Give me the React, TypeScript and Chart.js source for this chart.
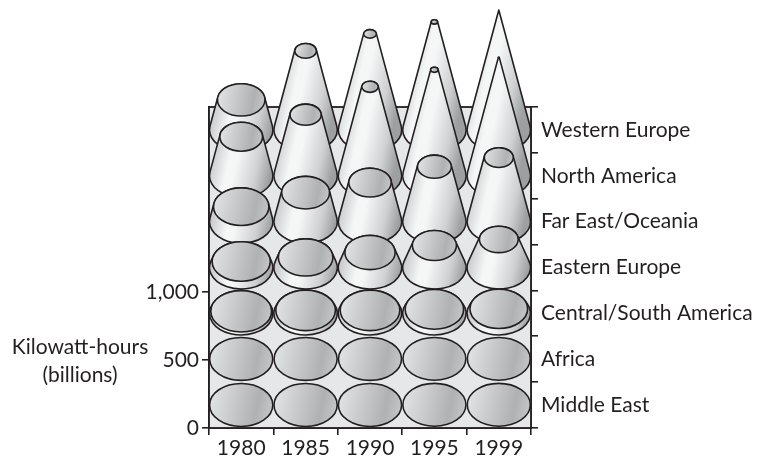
import React, { useEffect, useRef } from "react";
import { Chart, registerables } from "chart.js";

Chart.register(...registerables);

const years = ["1980", "1985", "1990", "1995", "1999"];
// Back row first: this is also the drawing order.
const regions = [
  "Western Europe",
  "North America",
  "Far East/Oceania",
  "Eastern Europe",
  "Central/South America",
  "Africa",
  "Middle East",
];
const westernEurope = [221, 581, 706, 794, 882];
const northAmerica = [287, 449, 654, 779, 868];
const farEast = [110, 213, 287, 404, 471];
const easternEurope = [44, 74, 110, 162, 206];
const centralSouthAmerica = [15, 22, 22, 29, 33];
const africa = [2, 2, 2, 3, 3];
const middleEast = [1, 1, 1, 2, 2];
const seriesValues = [westernEurope, northAmerica, farEast, easternEurope, centralSouthAmerica, africa, middleEast];
// Value at which a cone of the row would come to a point
const coneReach = [882, 882, 868, 530, 367, 367, 367];
const leftTicks = [0, 500, 1000];
const axisMax = 2360;

const INK = "#231f20";
const FONT = "Lato";
const FONT_SIZE = 21;

function ellipseGradient(ctx: CanvasRenderingContext2D, cx: number, cy: number, rx: number) {
  const g = ctx.createLinearGradient(cx - rx, cy - rx * 0.2, cx + rx, cy + rx * 0.2);
  g.addColorStop(0, "#e2e3e5");
  g.addColorStop(0.75, "#b0b1b3");
  g.addColorStop(1, "#c6c7c9");
  return g;
}

function sideGradient(ctx: CanvasRenderingContext2D, cx: number, cy: number, rx: number) {
  const g = ctx.createLinearGradient(cx - rx, cy - rx * 0.22, cx + rx, cy + rx * 0.22);
  g.addColorStop(0, "#bfc0c2");
  g.addColorStop(0.33, "#f5f6f6");
  g.addColorStop(0.45, "#f5f6f6");
  g.addColorStop(0.78, "#cfd0d2");
  g.addColorStop(1, "#9e9fa1");
  return g;
}

const frameAndCones = {
  id: "frameAndCones",
  beforeDatasetsDraw(chart: any) {
    const { ctx, chartArea: a } = chart;
    ctx.save();
    ctx.fillStyle = "#e6e7e9";
    ctx.fillRect(a.left, a.top, a.right - a.left, a.bottom - a.top);
    ctx.strokeStyle = INK;
    ctx.lineWidth = 1.8;
    ctx.strokeRect(a.left, a.top, a.right - a.left, a.bottom - a.top);
    ctx.restore();
  },
  afterDatasetsDraw(chart: any) {
    const { ctx } = chart;
    const y = chart.scales.y;
    const pxPerValue = (y.bottom - y.top) / (y.max - y.min);
    ctx.save();
    ctx.lineWidth = 1.6;
    ctx.strokeStyle = INK;
    ctx.lineJoin = "round";
    chart.data.datasets.forEach((_: any, d: number) => {
      const meta = chart.getDatasetMeta(d);
      meta.data.forEach((bar: any) => {
        const cx = bar.x;
        const by = bar.base;
        const ty = bar.y;
        const R = bar.width / 2 - 0.5;
        const Ry = R * 0.68;
        const reachPx = coneReach[d] * pxPerValue;
        const share = Math.max(0, 1 - (by - ty) / reachPx);
        const r = R * share;
        const ry = Ry * share;
        const t = Math.min(0.9, Ry / reachPx);
        const a = Math.asin(t);

        // A cone too low to show a side is only its top disc.
        if (by - ty >= 1) {
          ctx.beginPath();
          ctx.ellipse(cx, by, R, Ry, 0, -a, Math.PI + a, false);
          ctx.lineTo(cx - r * Math.cos(a), ty - ry * t);
          if (r > 0.05) ctx.ellipse(cx, ty, r, ry, 0, Math.PI + a, Math.PI * 2 - a, false);
          ctx.closePath();
          ctx.fillStyle = sideGradient(ctx, cx, (by + ty) / 2, R);
          ctx.fill();
          ctx.stroke();
        }

        if (r > 0.5) {
          ctx.beginPath();
          ctx.ellipse(cx, ty, r, ry, 0, 0, Math.PI * 2);
          ctx.fillStyle = ellipseGradient(ctx, cx, ty, r);
          ctx.fill();
          ctx.stroke();
        }
      });
    });
    ctx.restore();
  },
  afterDraw(chart: any) {
    const { ctx } = chart;
    ctx.save();
    ctx.fillStyle = INK;
    ctx.font = `${FONT_SIZE}px ${FONT}`;
    ctx.textAlign = "center";
    ctx.textBaseline = "middle";
    ctx.fillText("Kilowatt-hours", 80, 347);
    ctx.fillText("(billions)", 80, 375);
    ctx.restore();
  },
};

export default function App() {
  const ref = useRef<HTMLCanvasElement | null>(null);
  useEffect(() => {
    const rowValue = axisMax / regions.length;
    const datasets = regions.map((label, d) => {
      const baseValue = (regions.length - d - 0.5) * rowValue;
      return {
        label,
        data: seriesValues[d].map((v) => [baseValue, baseValue + v]),
        backgroundColor: "rgba(0,0,0,0)",
        borderWidth: 0,
        grouped: false,
        barPercentage: 1,
        categoryPercentage: 1,
      };
    });
    const tickFont = { family: FONT, size: FONT_SIZE };
    const chart = new Chart(ref.current as HTMLCanvasElement, {
      type: "bar",
      data: { labels: years, datasets: datasets as any },
      plugins: [frameAndCones],
      options: {
        responsive: false,
        animation: false,
        devicePixelRatio: 1,
        layout: { padding: { top: 107, left: 0, right: 0, bottom: 0 } },
        plugins: { legend: { display: false }, tooltip: { enabled: false } },
        scales: {
          x: {
            type: "category",
            grid: { drawOnChartArea: false, offset: true, tickLength: 7, color: INK, lineWidth: 1.6 },
            border: { color: INK, width: 1.8 },
            ticks: { color: INK, font: tickFont, padding: 1, maxRotation: 0, autoSkip: false },
            afterFit: (s: any) => { s.height = 31; },
          },
          y: {
            type: "linear",
            min: 0,
            max: axisMax,
            position: "left",
            grid: { drawOnChartArea: false, tickLength: 7, color: INK, lineWidth: 1.6 },
            border: { color: INK, width: 1.8 },
            ticks: {
              color: INK,
              font: tickFont,
              padding: 3,
              callback: (v: any) => Number(v).toLocaleString("en-US"),
            },
            afterBuildTicks: (s: any) => { s.ticks = leftTicks.map((value) => ({ value })); },
            afterFit: (s: any) => { s.width = 209; },
          },
          y2: {
            type: "category",
            labels: regions,
            position: "right",
            offset: true,
            grid: { drawOnChartArea: false, offset: true, tickLength: 7, color: INK, lineWidth: 1.6 },
            border: { color: INK, width: 1.8 },
            ticks: { color: INK, font: tickFont, padding: 3, autoSkip: false },
            afterFit: (s: any) => { s.width = 229; },
          },
        },
      } as any,
    });
    return () => chart.destroy();
  }, []);
  return (
    <div style={{ position: "fixed", left: 0, top: 0, width: 760, height: 459, background: "#fff" }}>
      <canvas ref={ref} width={760} height={459} style={{ display: "block" }} />
    </div>
  );
}
